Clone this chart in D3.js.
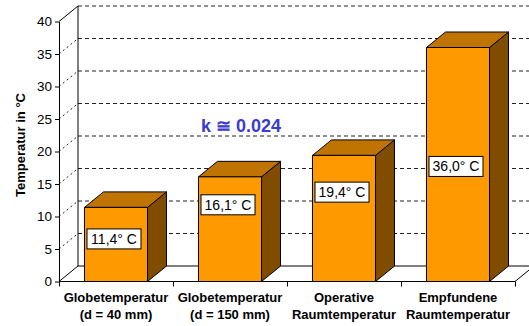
<!DOCTYPE html>
<html><head><meta charset="utf-8">
<script src="https://cdn.jsdelivr.net/npm/d3@7"></script>
<style>body{margin:0;background:#fff}svg{display:block}</style>
</head><body>
<script>
const categories = ["Globetemperatur|(d = 40 mm)", "Globetemperatur|(d = 150 mm)", "Operative|Raumtemperatur", "Empfundene|Raumtemperatur"];
const values = [11.4, 16.1, 19.4, 36.0];
const valueLabels = ["11,4° C", "16,1° C", "19,4° C", "36,0° C"];
const yTicks = [0, 5, 10, 15, 20, 25, 30, 35, 40];
const annotation = "k \u2245 0.024";
const yTitle = "Temperatur in °C";

// layout
const W = 529, H = 326;
const labelCenters = [6.55, 11.8, 13.75, 17.7]; // label box centre, in axis units
const DX = 19, DY = -15.5;

const svg = d3.select("body").append("svg").attr("width", W).attr("height", H)
  .style("font-family", "'Liberation Sans', Arial, sans-serif");

const y = d3.scaleLinear().domain([0, 40]).range([281.5, 21.5]);
const x = d3.scaleBand().domain(categories).range([59, 515]).paddingInner(0.447).paddingOuter(0.2235);
const xEdge = d3.scaleLinear().domain([0, categories.length]).range([59, 515]);
const x0 = 59, x1 = 515;

// back wall gridlines
const g = svg.append("g");
yTicks.filter(v => v > 0).forEach(v => {
  g.append("line").attr("x1", x0 + DX).attr("x2", x1 + DX).attr("y1", y(v) + DY).attr("y2", y(v) + DY)
    .attr("stroke", "#222").attr("stroke-width", 1).attr("stroke-dasharray", "4,3");
  if (v < 40) {
    g.append("line").attr("x1", x0).attr("x2", x0 + DX).attr("y1", y(v)).attr("y2", y(v) + DY)
      .attr("stroke", "#222").attr("stroke-width", 1).attr("stroke-dasharray", "2,3");
  }
});
// top diagonal
g.append("line").attr("x1", x0).attr("x2", x0 + DX).attr("y1", y(40)).attr("y2", y(40) + DY).attr("stroke", "#000");
// back wall left edge
g.append("line").attr("x1", x0 + DX).attr("x2", x0 + DX).attr("y1", y(40) + DY).attr("y2", y(0) + DY).attr("stroke", "#000");
// floor
g.append("line").attr("x1", x0 + DX).attr("x2", x1 + DX).attr("y1", y(0) + DY).attr("y2", y(0) + DY).attr("stroke", "#000");
g.append("line").attr("x1", x0).attr("x2", x0 + DX).attr("y1", y(0)).attr("y2", y(0) + DY).attr("stroke", "#000");
g.append("line").attr("x1", x1).attr("x2", x1 + DX).attr("y1", y(0)).attr("y2", y(0) + DY).attr("stroke", "#000");

// bars
const bars = svg.append("g");
categories.forEach((c, i) => {
  const bx = x(c), bw = x.bandwidth(), ty = y(values[i]), by = y(0);
  const bg = bars.append("g").attr("stroke", "#000").attr("stroke-width", 1).attr("stroke-linejoin", "round");
  bg.append("path").attr("fill", "#7F4C00")
    .attr("d", `M${bx + bw},${by}L${bx + bw + DX},${by + DY}L${bx + bw + DX},${ty + DY}L${bx + bw},${ty}Z`);
  bg.append("path").attr("fill", "#BF7300")
    .attr("d", `M${bx},${ty}L${bx + DX},${ty + DY}L${bx + bw + DX},${ty + DY}L${bx + bw},${ty}Z`);
  bg.append("rect").attr("x", bx).attr("y", ty).attr("width", bw).attr("height", by - ty).attr("fill", "#FF9900");
});

// front floor line (axis)
svg.append("line").attr("x1", x0).attr("x2", x1).attr("y1", y(0)).attr("y2", y(0)).attr("stroke", "#000");

// y axis
const yAxis = svg.append("g").attr("transform", `translate(${x0},0)`)
  .call(d3.axisLeft(y).tickValues(yTicks).tickSize(4).tickSizeOuter(0).tickPadding(3).tickFormat(d3.format("d")));
yAxis.select(".domain").attr("stroke", "#000");
yAxis.selectAll(".tick line").attr("stroke", "#000");
yAxis.selectAll("text").attr("font-size", 13.5).attr("fill", "#000").attr("font-family", "'Liberation Sans', Arial, sans-serif");

// x axis ticks at category edges
const xAxis = svg.append("g").attr("transform", `translate(0,${y(0)})`)
  .call(d3.axisBottom(xEdge).tickValues(d3.range(categories.length + 1)).tickSize(5).tickSizeOuter(0).tickFormat(""));
xAxis.select(".domain").remove();
xAxis.selectAll(".tick line").attr("stroke", "#000");

// category labels
categories.forEach(c => {
  const lines = c.split("|");
  const t = svg.append("text").attr("text-anchor", "middle").attr("font-weight", "bold").attr("font-size", 13)
    .attr("x", x(c) + x.bandwidth() / 2);
  lines.forEach((l, k) => t.append("tspan").attr("x", x(c) + x.bandwidth() / 2).attr("y", 301.5 + k * 17.5).text(l));
});

// value labels
categories.forEach((c, i) => {
  const cx = x(c) + x.bandwidth() / 2 - 2, cy = y(labelCenters[i]);
  const t = svg.append("text").attr("x", cx).attr("y", cy + 5).attr("text-anchor", "middle").attr("font-size", 14).text(valueLabels[i]);
  svg.insert("rect", () => t.node()).attr("x", cx - 27).attr("y", cy - 10).attr("width", 54).attr("height", 20)
    .attr("fill", "#fff").attr("stroke", "#000").attr("stroke-width", 1);
});

// y title
svg.append("text").attr("transform", "translate(24.5,145) rotate(-90)").attr("text-anchor", "middle")
  .attr("font-weight", "bold").attr("font-size", 13).text(yTitle);

// annotation
svg.append("text").attr("x", 201).attr("y", 131.5).attr("font-weight", "bold").attr("font-size", 18)
  .attr("fill", "#3B3BCC").text(annotation);
</script>
</body></html>
